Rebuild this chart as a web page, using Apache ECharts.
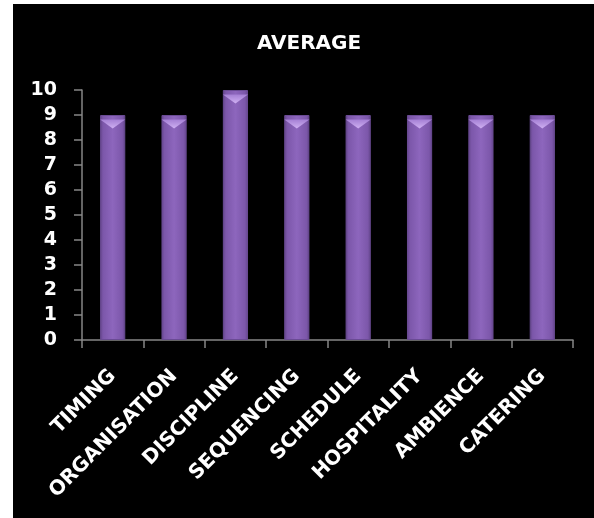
<!DOCTYPE html>
<html>
<head>
<meta charset="utf-8">
<script src="https://cdn.jsdelivr.net/npm/echarts@6/dist/echarts.min.js"></script>
<style>
html,body{margin:0;padding:0;background:#ffffff;width:594px;height:518px;overflow:hidden;}
#chart{position:absolute;left:13px;top:4px;width:581px;height:514px;}
</style>
</head>
<body>
<div id="chart"></div>
<script>
const titleText = 'AVERAGE';
const categories = ['TIMING','ORGANISATION','DISCIPLINE','SEQUENCING','SCHEDULE','HOSPITALITY','AMBIENCE','CATERING'];
const averageValues = [9, 9, 10, 9, 9, 9, 9, 9];
const yTicks = [0,1,2,3,4,5,6,7,8,9,10];

const FONT = 'DejaVu Sans';
const chart = echarts.init(document.getElementById('chart'), null, {renderer:'canvas'});
chart.setOption({
  backgroundColor: '#000000',
  animation: false,
  title: {
    text: titleText,
    left: 291, top: 25, textAlign: 'center',
    textStyle: {color:'#ffffff', fontFamily: FONT, fontWeight:'bold', fontSize:20}
  },
  grid: {left:69, right:21, top:86, bottom:178, containLabel:false},
  xAxis: {
    type:'category',
    data: categories,
    axisLine:{lineStyle:{color:'#868686', width:1.5}},
    axisTick:{show:true, length:8, alignWithLabel:false, lineStyle:{color:'#868686', width:1.5}},
    axisLabel:{
      rotate:45, interval:0, margin:33, padding:[24,0,0,0],
      color:'#ffffff', fontFamily:FONT, fontWeight:'bold', fontSize:20
    },
    splitLine:{show:false}
  },
  yAxis: {
    type:'value', min: yTicks[0], max: yTicks[yTicks.length-1], interval:1,
    axisLine:{show:true, lineStyle:{color:'#868686', width:1.5}},
    axisTick:{show:true, length:8, lineStyle:{color:'#868686', width:1.5}},
    axisLabel:{margin:25, color:'#ffffff', fontFamily:FONT, fontWeight:'bold', fontSize:19},
    splitLine:{show:false}
  },
  series: [
    {
      type:'bar',
      data: averageValues,
      barWidth:'41%',
      itemStyle:{
        color: new echarts.graphic.LinearGradient(0,0,1,0,[
          {offset:0, color:'#63458a'},
          {offset:0.12, color:'#7c57aa'},
          {offset:0.5, color:'#8d66bd'},
          {offset:0.88, color:'#7c57aa'},
          {offset:1, color:'#63458a'}
        ]),
        borderColor:'#6a4b94', borderWidth:1
      },
      z:2
    },
    {
      type:'pictorialBar',
      data: averageValues,
      symbol:'triangle',
      symbolRotate:180,
      symbolSize:[25,9],
      symbolPosition:'end',
      symbolOffset:[0,'50%'],
      itemStyle:{
        color: new echarts.graphic.LinearGradient(0,0,0,1,[
          {offset:0, color:'#cfb0f2'},
          {offset:1, color:'#a47fd4'}
        ])
      },
      z:3,
      silent:true
    }
  ]
});
</script>
</body>
</html>
